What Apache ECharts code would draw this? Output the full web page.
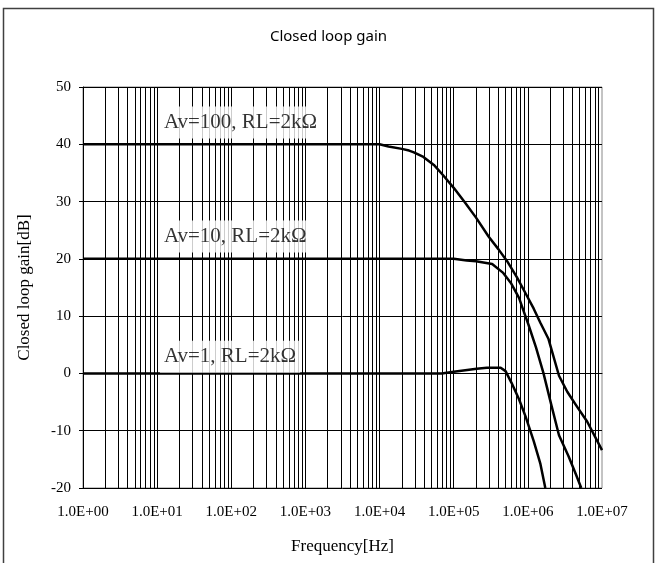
<!DOCTYPE html>
<html>
<head>
<meta charset="utf-8">
<script src="https://cdn.jsdelivr.net/npm/echarts@6/dist/echarts.min.js"></script>
<style>html,body{margin:0;padding:0;background:#fff}#c{width:657px;height:563px}</style>
</head>
<body>
<div id="c"></div>
<script>
// ---- data ----
const titleText = 'Closed loop gain';
const xAxisName = 'Frequency[Hz]';
const yAxisName = 'Closed loop gain[dB]';
const xTickLabels = ['1.0E+00','1.0E+01','1.0E+02','1.0E+03','1.0E+04','1.0E+05','1.0E+06','1.0E+07'];
const seriesNames = ['Av=100, RL=2kΩ', 'Av=10, RL=2kΩ', 'Av=1, RL=2kΩ'];

const freqA100 = [1, 1e4, 1.32e4, 2.0e4, 2.5e4, 2.9e4, 3.9e4, 5.4e4, 7.2e4, 1.0e5, 1.41e5, 2.0e5, 2.95e5, 4.0e5, 5.25e5, 7.1e5, 9.3e5, 1.2e6, 1.48e6, 1.9e6, 2.63e6, 3.4e6, 4.6e6, 6.3e6, 1e7];
const gainA100 = [40, 40, 39.6, 39.2, 38.9, 38.6, 37.8, 36.4, 34.6, 32.4, 29.9, 27.2, 23.9, 21.7, 19.6, 16.8, 14.0, 11.3, 8.8, 6.0, -0.4, -3.2, -5.8, -8.4, -13.4];

const freqA10 = [1, 1e5, 1.5e5, 2.0e5, 3.3e5, 4.6e5, 5.9e5, 7.6e5, 8.7e5, 1.02e6, 1.29e6, 1.62e6, 2.1e6, 2.63e6, 3.55e6, 4.47e6, 5.25e6];
const gainA10 = [20, 20, 19.7, 19.6, 19.1, 17.6, 15.8, 13.2, 11.0, 8.5, 4.5, 0.1, -5.8, -10.8, -14.5, -17.7, -20];

const freqA1 = [1, 6.9e4, 1.0e5, 1.35e5, 2.04e5, 2.8e5, 4.3e5, 5.0e5, 6.0e5, 7.6e5, 9.3e5, 1.2e6, 1.47e6, 1.72e6];
const gainA1 = [0, 0, 0.3, 0.5, 0.8, 1.0, 1.0, 0.4, -1.6, -4.5, -7.5, -11.8, -15.7, -20];

// label anchor points (in data units)
const labelFreq = [10.9, 10.9, 10.9];
const labelGain = [43.8, 23.9, 2.9];

// ---- build ----
function zip(xs, ys) { return xs.map((x, i) => [x, ys[i]]); }

const gridX = [];
for (let d = 0; d < 7; d++) {
  for (let m = 1; m <= 9; m++) {
    const v = m * Math.pow(10, d);
    if (v > 1 && v < 1e7) gridX.push({ xAxis: v });
  }
}

const serif = 'Liberation Serif';
const curveStyle = { color: '#000', width: 2.5, join: 'round' };
const curveCommon = { type: 'line', showSymbol: false, symbol: 'none', lineStyle: curveStyle, z: 3, clip: true };

const chart = echarts.init(document.getElementById('c'), null, { renderer: 'canvas' });
chart.setOption({
  animation: false,
  backgroundColor: '#fff',
  textStyle: { fontFamily: serif, color: '#000' },
  title: {
    text: titleText, left: 'center', top: 24,
    textStyle: { fontFamily: 'Noto Sans', fontSize: 15, fontWeight: 'normal', color: '#000' }
  },
  graphic: [{
    type: 'rect', silent: true,
    shape: { x: 3.5, y: 8.5, width: 650, height: 600 },
    style: { fill: 'none', stroke: '#404040', lineWidth: 1.5 }
  }],
  grid: {
    left: 83, right: 55, top: 87, bottom: 75,
    show: true, borderColor: '#888', borderWidth: 1, backgroundColor: 'transparent'
  },
  xAxis: {
    type: 'log', logBase: 10, min: 1, max: 1e7,
    name: xAxisName, nameLocation: 'middle', nameGap: 50,
    nameTextStyle: { fontFamily: serif, fontSize: 17, color: '#000' },
    axisLine: { show: true, lineStyle: { color: '#000', width: 1 } },
    axisTick: { show: false },
    splitLine: { show: false },
    axisLabel: {
      fontFamily: serif, fontSize: 15, color: '#000', margin: 17,
      formatter: function (v) {
        const e = Math.round(Math.log10(v));
        return xTickLabels[e] !== undefined ? xTickLabels[e] : '';
      }
    }
  },
  yAxis: {
    type: 'value', min: -20, max: 50, interval: 10,
    name: yAxisName, nameLocation: 'middle', nameGap: 50,
    nameTextStyle: { fontFamily: serif, fontSize: 17, color: '#000' },
    axisLine: { show: true, lineStyle: { color: '#000', width: 1 } },
    axisTick: { show: true, length: 4, lineStyle: { color: '#000' } },
    splitLine: { show: true, lineStyle: { color: '#000', width: 1 } },
    axisLabel: { fontFamily: serif, fontSize: 15, color: '#000', margin: 12 }
  },
  series: [
    Object.assign({}, curveCommon, {
      name: seriesNames[0], data: zip(freqA100, gainA100),
      markLine: {
        silent: true, symbol: ['none', 'none'], animation: false,
        label: { show: false },
        lineStyle: { color: '#000', width: 1, type: 'solid' },
        emphasis: { disabled: true },
        data: gridX
      }
    }),
    Object.assign({}, curveCommon, { name: seriesNames[1], data: zip(freqA10, gainA10) }),
    Object.assign({}, curveCommon, { name: seriesNames[2], data: zip(freqA1, gainA1) }),
    {
      type: 'scatter', z: 10, symbolSize: 0, silent: true,
      data: seriesNames.map((n, i) => ({ name: n, value: [labelFreq[i], labelGain[i]] })),
      label: {
        show: true, position: 'right', distance: 0,
        formatter: '{b}', fontFamily: serif, fontSize: 21, color: '#000',
        backgroundColor: '#fff', padding: [6, 4, 5, 4]
      }
    }
  ]
});
</script>
</body>
</html>
